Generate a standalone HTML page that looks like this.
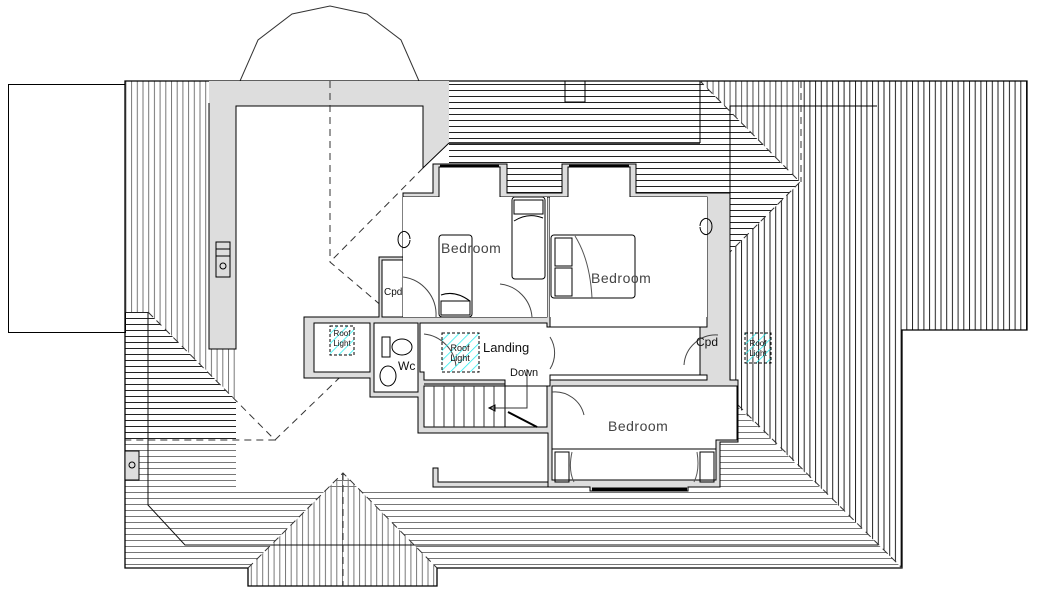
<!DOCTYPE html>
<html><head><meta charset="utf-8"><style>html,body{margin:0;padding:0;background:#fff}svg{display:block}</style></head>
<body>
<svg width="1038" height="593" viewBox="0 0 1038 593" xmlns="http://www.w3.org/2000/svg" font-family="Liberation Sans, sans-serif">
<defs>
<pattern id="hd" width="6" height="6" patternUnits="userSpaceOnUse"><line x1="0" y1="0.5" x2="6" y2="0.5" stroke="#222" stroke-width="1"/></pattern>
<pattern id="hg" width="6" height="6" patternUnits="userSpaceOnUse"><line x1="0" y1="0.5" x2="6" y2="0.5" stroke="#777" stroke-width="1"/></pattern>
<pattern id="vd" width="5.7" height="6" patternUnits="userSpaceOnUse"><line x1="0.5" y1="0" x2="0.5" y2="6" stroke="#222" stroke-width="1"/></pattern>
<pattern id="vg" width="5.7" height="6" patternUnits="userSpaceOnUse"><line x1="0.5" y1="0" x2="0.5" y2="6" stroke="#777" stroke-width="1"/></pattern>
<pattern id="cy" width="7" height="7" patternUnits="userSpaceOnUse" patternTransform="rotate(45)"><line x1="0" y1="0" x2="0" y2="7" stroke="#2ee" stroke-width="1.5"/></pattern>
</defs>
<g fill="none" stroke="#000" stroke-width="1">
<!-- left box -->
<rect x="8.5" y="84.5" width="117" height="248"/>
<!-- bay window -->
<polyline points="240,81 258,40 292,14 330,6 367,14 401,40 419,81" stroke="#333"/>
<!-- hatch regions -->
<rect x="125" y="81" width="84" height="231" fill="url(#vg)" stroke="none"/>
<polygon points="449,81 700,81 800,182 730,252 730,193 449,193" fill="url(#hd)" stroke="none"/>
<polygon points="700,81 1027,81 1027,330 902,330 902,568 738,407 738,380 730,380 730,252 800,182" fill="url(#vd)" stroke="none"/>
<polygon points="700,81 800,81 800,182" fill="url(#vg)" stroke="none"/>
<polygon points="148,312 236,312 236,400" fill="url(#vg)" stroke="none"/>
<polygon points="125,312 148,312 236,400 236,440 125,440" fill="url(#hd)" stroke="none"/>
<polygon points="125,440 236,440 236,482 125,482" fill="url(#hg)" stroke="none"/>
<polygon points="125,482 236,482 236,488 720,488 720,407 738,407 902,568 437,568 343,473 248,568 125,568" fill="url(#hg)" stroke="none"/>
<polygon points="343,473 437,568 437,586 248,586 248,568" fill="url(#vg)" stroke="none"/>
<!-- main outline -->
<polygon points="125,81 1027,81 1027,330 902,330 902,568 437,568 437,586 248,586 248,568 125,568" stroke-width="1.3"/>
<!-- grey L wall -->
<path d="M209,81 H449 V143 L423,168 V106 H236 V349 H209 Z" fill="#ddd" stroke="none"/>
<path d="M209,103 V349 H236 V106 H423 V168 L449,143" />
<!-- roof lines -->
<polyline points="148,312 148,505 185,545 878,545" stroke="#111"/>
<polyline points="730,252 730,106 877,106"/>
<line x1="700" y1="81" x2="700" y2="143"/>
<line x1="449" y1="143" x2="700" y2="143" stroke-width="1.5"/>
<rect x="565" y="81" width="20" height="21"/>
<!-- dashed hips -->
<g stroke="#333" stroke-dasharray="7,5">
<polyline points="330,81 330,262 403,324 660,324 738,405"/>
<polyline points="423,168 330,262"/>
<polyline points="148,312 275,440 125,440"/>
<polyline points="275,440 420,300"/>
<polyline points="660,324 730,252 800,182 700,81"/>
<line x1="801" y1="81" x2="801" y2="182"/>
<polyline points="248,568 343,473 437,568"/>
<line x1="343" y1="473" x2="343" y2="586"/>
<polyline points="738,405 902,568"/>
<line x1="638" y1="355" x2="638" y2="445"/>
<polyline points="597,490 638,443 680,490"/>
</g>
<!-- stoves -->
<rect x="216" y="242" width="14" height="35" fill="#ddd"/><line x1="216" y1="249" x2="230" y2="249"/><line x1="216" y1="256" x2="230" y2="256"/><circle cx="223" cy="266" r="3"/>
<rect x="125" y="451" width="14" height="29" fill="#ddd"/><circle cx="132" cy="465" r="3"/>
<!-- building: grey walls -->
<path d="M433,164 H507 V193 H562 V164 H636 V193 H730 V380 H738 V442 H720 V487 H688 V491 H590 V487 H548 V433 H418 V397 H370 V378 H304 V317 H379 V257 H403 V193 H433 Z" fill="#ddd" stroke="#000"/>
<!-- white interiors -->
<path d="M439,167 H500 V197 H568 V167 H630 V197 H707 V327 H700 V375 H707 V380 H550 V197 H547 V317 H403 V197 H439 Z" fill="#fff"/>
<rect x="382" y="260" width="21" height="57" fill="#fff"/>
<rect x="403" y="197" width="144" height="120" fill="#fff" stroke="none"/>
<rect x="550" y="197" width="157" height="120" fill="#fff" stroke="none"/>
<path d="M420,323 H547 V327 H700 V375 H550 V386 H505 V380 H424 V372 H420 Z" fill="#fff"/>
<rect x="314" y="323" width="56" height="49" fill="#fff"/>
<rect x="374" y="323" width="44" height="69" fill="#fff"/>
<rect x="424" y="386" width="123" height="41" fill="#fff"/>
<path d="M552,386 H737 V440 H716 V480 H552 Z" fill="#fff"/>
<!-- lower grey L -->
<path d="M433,468 H438 V482 H548 V487 H433 Z" fill="#ddd"/>
<!-- windows -->
<line x1="440" y1="166" x2="499" y2="166" stroke-width="2.5"/>
<line x1="569" y1="166" x2="629" y2="166" stroke-width="2.5"/>
<line x1="592" y1="489" x2="687" y2="489" stroke-width="3"/>
<!-- furniture -->
<rect x="439" y="235" width="33" height="82" rx="3"/>
<rect x="441" y="301" width="29" height="14"/>
<path d="M441,295 Q455,290 470,301" />
<rect x="512" y="197" width="33" height="82" rx="3"/>
<rect x="514" y="200" width="29" height="14"/>
<path d="M514,221 Q528,212 543,218"/>
<rect x="551" y="235" width="84" height="63" rx="3"/>
<rect x="555" y="238" width="17" height="28"/><rect x="555" y="268" width="17" height="28"/>
<path d="M575,236 Q590,260 592,298" stroke="#555"/>
<rect x="555" y="452" width="14" height="30"/><rect x="700" y="452" width="14" height="30"/>
<line x1="552" y1="449" x2="716" y2="449"/>
<path d="M572,452 Q568,470 574,482 M697,452 Q700,470 694,482" stroke="#555"/>
<path d="M410,239 a6,8 0 1 0 0,1" />
<path d="M700,226 a6,8 0 1 1 0,1" />
<rect x="382" y="337" width="8" height="20"/>
<ellipse cx="402" cy="347" rx="10" ry="8"/>
<ellipse cx="388" cy="376" rx="8" ry="10"/>
<!-- doors -->
<path d="M403,277 A38,38 0 0 1 436,317" stroke="#444"/>
<path d="M500,284 A36,36 0 0 1 532,317" stroke="#444"/>
<path d="M424,334 A36,36 0 0 1 456,366" stroke="#444"/>
<path d="M550,337 A30,30 0 0 1 550,369" stroke="#444"/>
<path d="M552,392 A30,30 0 0 1 584,415" stroke="#444"/>
<path d="M718,335 A32,32 0 0 0 684,365" stroke="#444"/>
<!-- stair -->
<line x1="424" y1="380" x2="505" y2="380"/><line x1="424" y1="384" x2="505" y2="384"/>
<g stroke="#333">
<line x1="434" y1="386" x2="434" y2="427"/><line x1="444" y1="386" x2="444" y2="427"/><line x1="454" y1="386" x2="454" y2="427"/><line x1="464" y1="386" x2="464" y2="427"/><line x1="474" y1="386" x2="474" y2="427"/><line x1="484" y1="386" x2="484" y2="427"/><line x1="494" y1="386" x2="494" y2="427"/>
</g>
<line x1="505" y1="386" x2="505" y2="427"/>
<polyline points="527,369 527,408 489,408" stroke="#333"/>
<path d="M489,408 l6,-3 v6 z"/>
<line x1="508" y1="412" x2="537" y2="427" stroke-width="2"/>
<!-- roof lights -->
<rect x="330" y="326" width="24" height="29" fill="url(#cy)" stroke-dasharray="3,2"/>
<rect x="442" y="333" width="37" height="39" fill="url(#cy)" stroke-dasharray="3,2"/>
<rect x="745" y="333" width="26" height="30" fill="url(#cy)" stroke-dasharray="3,2"/>
</g>
<g fill="#444" stroke="none">
<text x="441" y="253" font-size="14" letter-spacing="0.5">Bedroom</text>
<text x="591" y="283" font-size="14" letter-spacing="0.5">Bedroom</text>
<text x="608" y="431" font-size="14" letter-spacing="0.5">Bedroom</text>
<text x="483" y="352" font-size="13" fill="#111">Landing</text>
<text x="510" y="376" font-size="11" fill="#111">Down</text>
<text x="398" y="370" font-size="12" fill="#111">Wc</text>
<text x="384" y="295" font-size="10" fill="#111">Cpd</text>
<text x="696" y="346" font-size="12" fill="#111">Cpd</text>
<text x="342" y="336" font-size="8" text-anchor="middle" fill="#111">Roof</text>
<text x="342" y="346" font-size="8" text-anchor="middle" fill="#111">Light</text>
<text x="460" y="351" font-size="9" text-anchor="middle" fill="#111">Roof</text>
<text x="460" y="361" font-size="9" text-anchor="middle" fill="#111">Light</text>
<text x="758" y="346" font-size="8" text-anchor="middle" fill="#111">Roof</text>
<text x="758" y="356" font-size="8" text-anchor="middle" fill="#111">Light</text>
</g>
</svg>
</body></html>
